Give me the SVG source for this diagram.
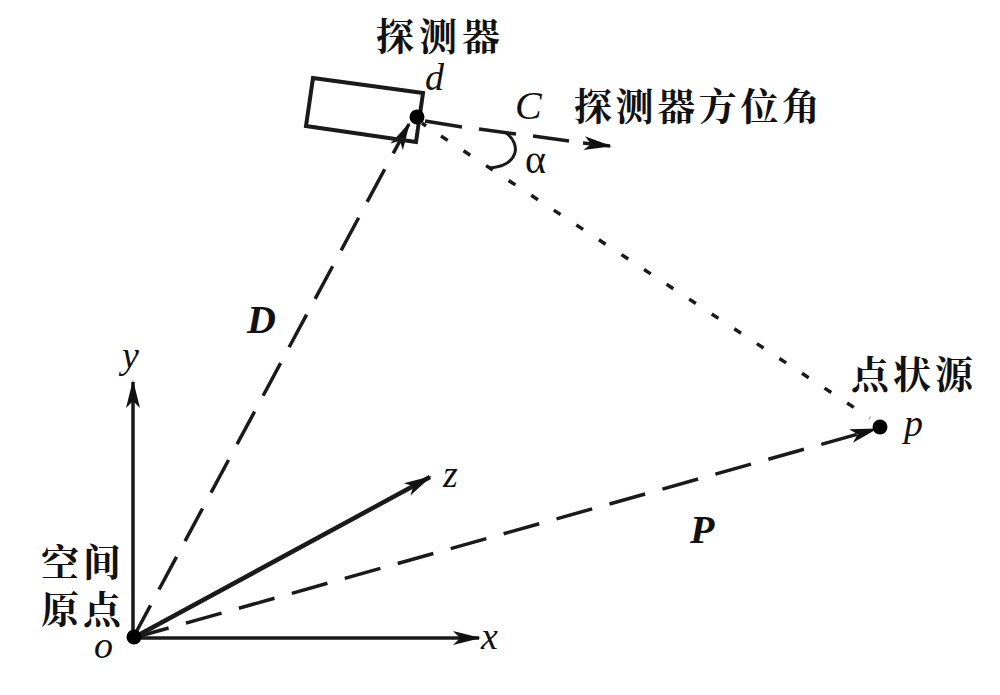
<svg xmlns="http://www.w3.org/2000/svg" width="1000" height="695" viewBox="0 0 1000 695">
<style>
.cn{font-family:"Noto Serif CJK SC","Noto Sans CJK SC","Liberation Serif",serif;font-size:38px;fill:#111;font-weight:700}
.it{font-family:"Liberation Serif",serif;font-style:italic;font-size:38px;fill:#111}
.bi{font-family:"Liberation Serif",serif;font-style:italic;font-weight:700;font-size:40px;fill:#111}
.l{fill:none;stroke:#1a1a1a;stroke-width:3.5}
.d{stroke-dasharray:37 18}
.s{stroke-dasharray:8 19}
</style>
<defs>
<marker id="a" viewBox="0 0 28 16" refX="26" refY="8" markerWidth="28" markerHeight="16" markerUnits="userSpaceOnUse" orient="auto"><path d="M0 1L28 8L0 15L7 8Z" fill="#111"/></marker>
</defs>
<rect width="1000" height="695" fill="#fff"/>
<g id="connectors">
<path class="l" marker-end="url(#a)" d="M133 638V382"/>
<path class="l" marker-end="url(#a)" d="M133 638H479"/>
<path class="l" style="stroke-width:4.5" marker-end="url(#a)" d="M133 638L430 477"/>
<path class="l d" marker-end="url(#a)" d="M133 638L409 124"/>
<path class="l d" marker-end="url(#a)" d="M133 638L876 429"/>
<path class="l" d="M425 121L462 127M479 129L516 134M533 136L569 141"/>
<path class="l" marker-end="url(#a)" d="M583 143L610 146"/>
<path class="l s" d="M441 136L870 418"/>
<path class="l" style="stroke-width:3" d="M505 132C522 144 519 165 490 168"/>
</g>
<g id="detector">
<path class="l" style="stroke-width:4" d="M313 78L423 93L416 142L306 126Z"/>
<path class="l" d="M422 123L426 126"/>
<circle cx="417" cy="117" r="7.5" fill="#000"/>
<text class="cn" x="376" y="50" textLength="124">探测器</text>
<text class="it" x="425" y="90">d</text>
</g>
<g id="azimuth">
<text class="it" x="515" y="119" style="font-size:40px">C</text>
<text x="525" y="173" font-family="Liberation Serif,serif" font-size="40" fill="#111">α</text>
<text class="cn" x="574" y="120" textLength="246">探测器方位角</text>
</g>
<g id="source">
<circle cx="880" cy="427" r="7.5" fill="#000"/>
<text class="cn" x="851" y="388" textLength="122">点状源</text>
<text class="it" x="904" y="436">p</text>
</g>
<g id="origin">
<circle cx="134" cy="637" r="7.5" fill="#000"/>
<text class="cn" x="41" y="576" textLength="80">空间</text>
<text class="cn" x="41" y="623" textLength="80">原点</text>
<text class="it" x="94" y="658">o</text>
</g>
<g id="labels">
<text class="it" x="122" y="368">y</text>
<text class="it" x="481" y="649">x</text>
<text class="it" x="443" y="487">z</text>
<text class="bi" x="247" y="333">D</text>
<text class="bi" x="690" y="543">P</text>
</g>
</svg>
